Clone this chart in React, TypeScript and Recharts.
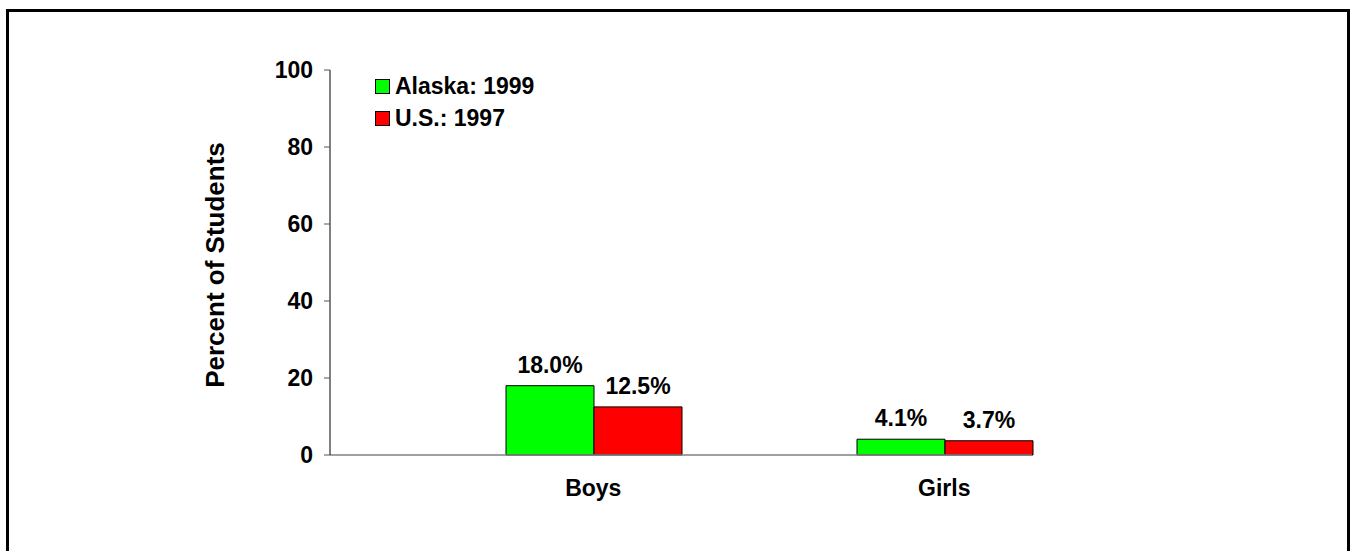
import React from 'react';
import { BarChart, Bar, XAxis, YAxis, Legend, LabelList } from 'recharts';

const categories = ['Boys', 'Girls'];
const alaska1999 = [18.0, 4.1];
const us1997 = [12.5, 3.7];
const yTicks = [0, 20, 40, 60, 80, 100];
const seriesNames = ['Alaska: 1999', 'U.S.: 1997'];
const seriesColors = ['#00ff00', '#ff0000'];

const data = categories.map((name, i) => ({
  name,
  alaska: alaska1999[i],
  us: us1997[i],
}));

const FONT = '"Liberation Sans", Arial, sans-serif';
const FS = 23;

// plot is 702px wide, 2 categories, 4 slots each (two empty slots on the left)
const SLOT = 702 / 2 / 4;

const CategoryTick = (props: any) => {
  const { x, payload } = props;
  return (
    <text
      x={x + SLOT}
      y={488}
      textAnchor="middle"
      dominantBaseline="central"
      fontFamily={FONT}
      fontWeight="bold"
      fontSize={FS}
      fill="#000"
    >
      {payload.value}
    </text>
  );
};

const LegendBox = () => (
  <div style={{ fontFamily: FONT, fontWeight: 'bold', fontSize: FS, color: '#000' }}>
    {seriesNames.map((n, i) => (
      <div key={n} style={{ display: 'flex', alignItems: 'center', height: 32 }}>
        <span
          style={{
            display: 'inline-block',
            width: 13,
            height: 13,
            background: seriesColors[i],
            border: '1px solid #000',
            marginRight: 5,
          }}
        />
        {n}
      </div>
    ))}
  </div>
);

const App = () => {
  return (
    <div style={{ position: 'fixed', left: 0, top: 0, width: 1351, height: 551, overflow: 'hidden', background: '#fff' }}>
      <div
        style={{
          position: 'absolute',
          left: 6,
          top: 9,
          width: 1344,
          height: 600,
          border: '3px solid #000',
          boxSizing: 'border-box',
        }}
      />
      <div style={{ position: 'absolute', left: 0, top: 0 }}>
        <BarChart
          width={1351}
          height={551}
          data={data}
          margin={{ top: 70, right: 319, bottom: 56, left: 0 }}
          barCategoryGap={0}
          barGap={0}
        >
          <XAxis
            dataKey="name"
            height={40}
            axisLine={{ stroke: '#808080', strokeWidth: 1.5 }}
            tickLine={false}
            tick={<CategoryTick />}
            interval={0}
          />
          <YAxis
            width={330}
            domain={[0, 100]}
            ticks={yTicks}
            interval={0}
            axisLine={{ stroke: '#000' }}
            tickLine={{ stroke: '#555' }}
            tickSize={6}
            tickMargin={11}
            tick={{ fontFamily: FONT, fontWeight: 'bold', fontSize: FS, fill: '#000' }}
            label={{
              content: () => (
                <text
                  x={215}
                  y={265}
                  transform="rotate(-90 215 265)"
                  textAnchor="middle"
                  dominantBaseline="central"
                  fontFamily={FONT}
                  fontWeight="bold"
                  fontSize={26}
                  fill="#000"
                >
                  Percent of Students
                </text>
              ),
            }}
          />
          <Legend
            layout="vertical"
            align="center"
            verticalAlign="middle"
            content={<LegendBox />}
            wrapperStyle={{ position: 'absolute', left: 375, top: 70, width: 'auto' }}
          />
          <Bar dataKey="pad1" fill="none" isAnimationActive={false} legendType="none" />
          <Bar dataKey="pad2" fill="none" isAnimationActive={false} legendType="none" />
          <Bar dataKey="alaska" fill={seriesColors[0]} stroke="#000" strokeWidth={1} isAnimationActive={false}>
            <LabelList
              dataKey="alaska"
              position="top"
              offset={13}
              formatter={(v: any) => `${Number(v).toFixed(1)}%`}
              fontFamily={FONT}
              fontWeight="bold"
              fontSize={FS}
              fill="#000"
            />
          </Bar>
          <Bar dataKey="us" fill={seriesColors[1]} stroke="#000" strokeWidth={1} isAnimationActive={false}>
            <LabelList
              dataKey="us"
              position="top"
              offset={13}
              formatter={(v: any) => `${Number(v).toFixed(1)}%`}
              fontFamily={FONT}
              fontWeight="bold"
              fontSize={FS}
              fill="#000"
            />
          </Bar>
        </BarChart>
      </div>
    </div>
  );
};

export default App;
